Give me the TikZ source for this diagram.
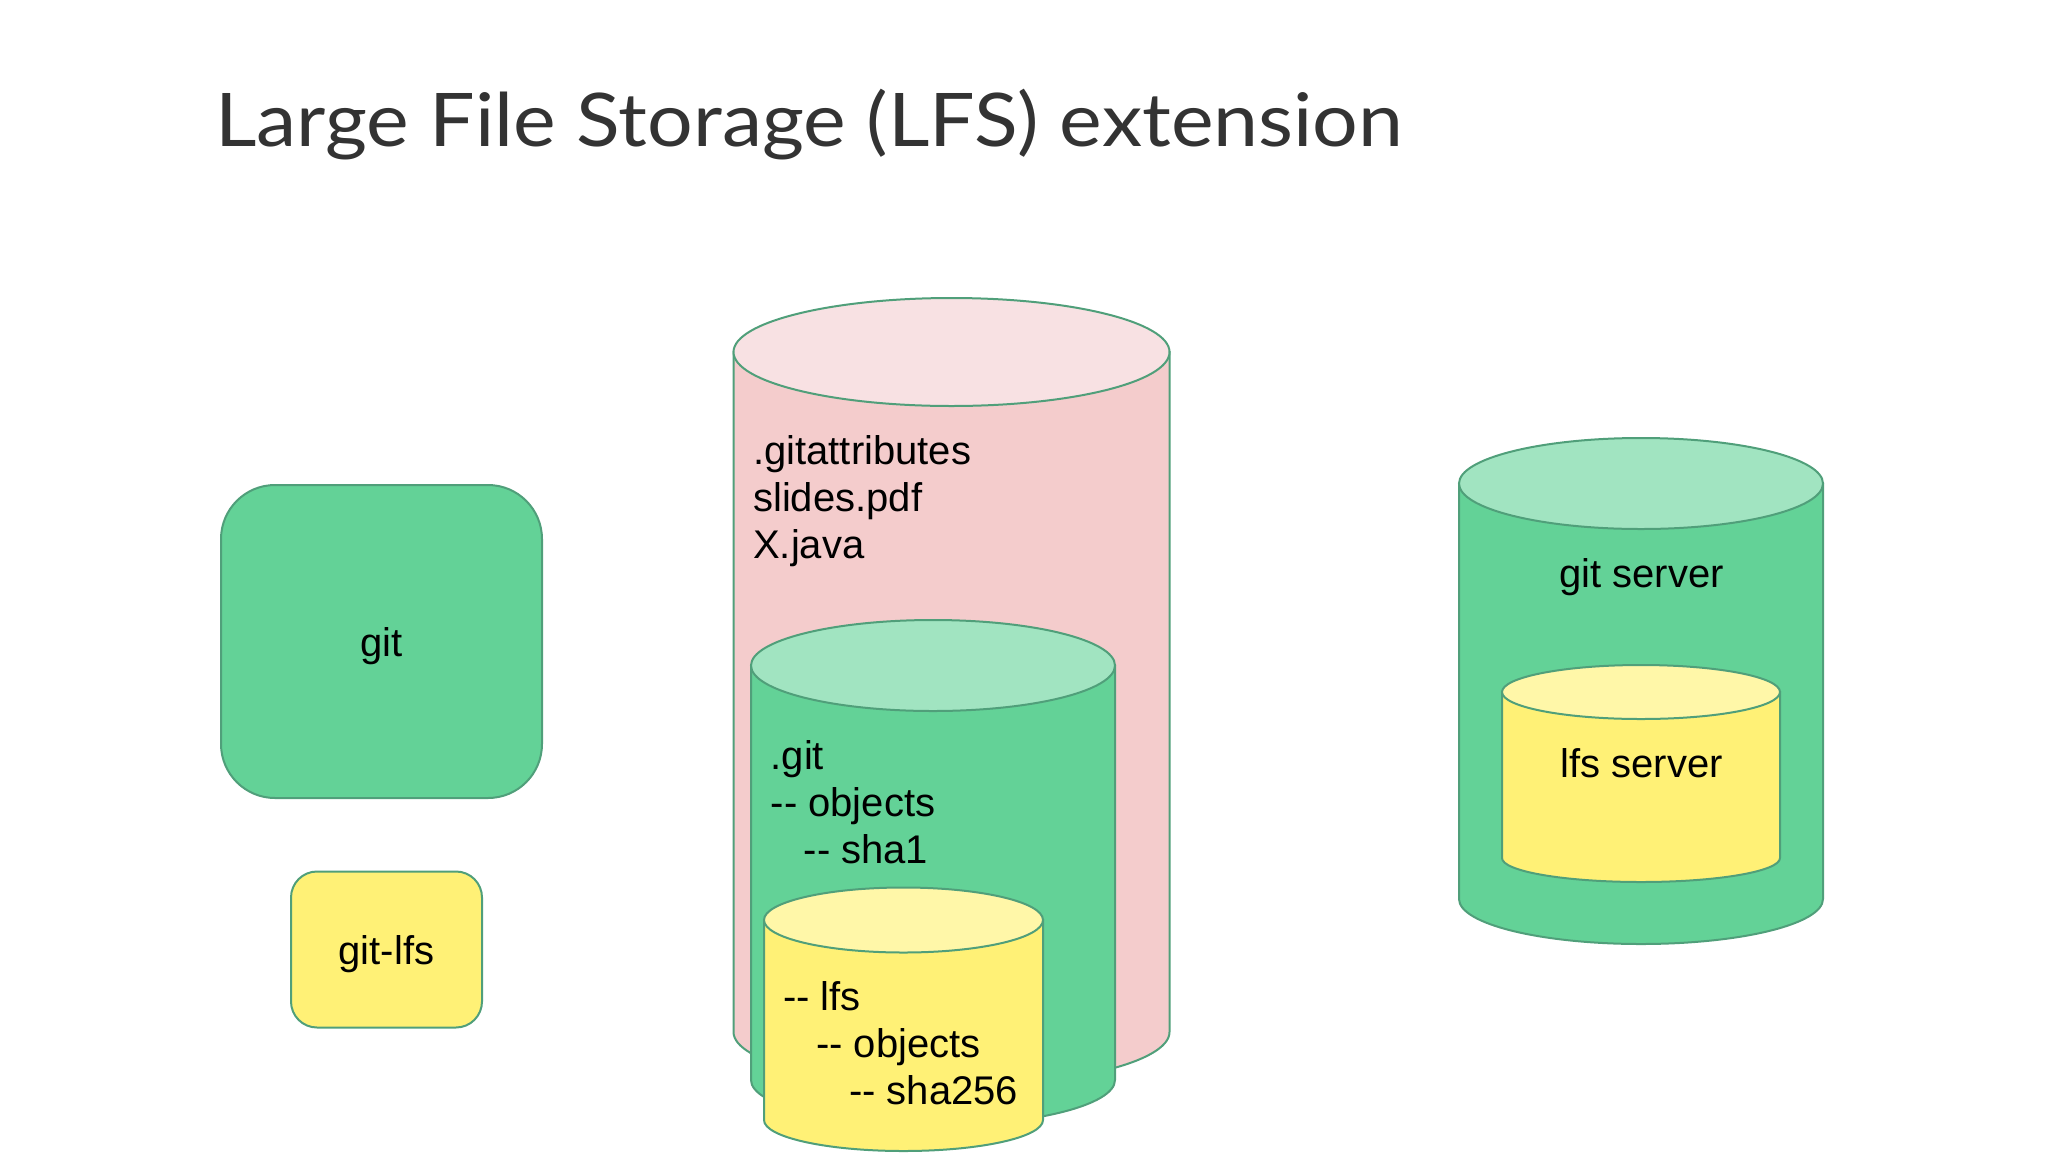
\documentclass[tikz,border=0pt]{standalone}
\usepackage{fontspec}
\setmainfont{Liberation Sans}
\newfontfamily\titlefont[FakeStretch=1.09]{Lato}
\definecolor{edgegreen}{HTML}{509F7A}
\definecolor{pinkbody}{HTML}{F4CCCC}
\definecolor{pinktop}{HTML}{F8E1E3}
\definecolor{greenbody}{HTML}{63D297}
\definecolor{greentop}{HTML}{A1E4C1}
\definecolor{yellowbody}{HTML}{FFF176}
\definecolor{yellowtop}{HTML}{FFF7A8}
\tikzset{
	shape line/.style={draw=edgegreen, line width=2pt},
	body text/.style={inner sep=0pt, align=left, font=\fontsize{40}{47}\selectfont},
}
\newlength{\stepin}
\setlength{\stepin}{33pt}
\begin{document}
\begin{tikzpicture}[x=1pt, y=-1pt]
	\useasboundingbox (0,0) rectangle (2048,1152);

	\node (title) [anchor=base west, inner sep=0pt, text=black!80, font=\titlefont\fontsize{74}{80}\selectfont] at (215,146) {Large File Storage (LFS) extension};

	\node (gitbox) [shape line, fill=greenbody, rounded corners=54pt, minimum width=321pt, minimum height=313pt, text depth=0pt, body text] at (381.5,641.5) {git};
	\node (lfsbox) [shape line, fill=yellowbody, rounded corners=26pt, minimum width=191pt, minimum height=156pt, text depth=0pt, body text] at (386.5,949.5) {git-lfs};

	% big repo
	\draw[shape line, fill=pinkbody] (733.5,352) -- (733.5,1032) arc[start angle=180, end angle=360, x radius=218pt, y radius=54pt] -- (1169.5,352) -- cycle;
	\draw[shape line, fill=pinktop] (951.5,352) ellipse [x radius=218pt, y radius=54pt];
	\node (worktree) [body text, anchor=north west] at (753,435) {.gitattributes\\slides.pdf\\X.java};

	% .git inside it
	\draw[shape line, fill=greenbody] (751,665.5) -- (751,1080) arc[start angle=180, end angle=360, x radius=182pt, y radius=45.5pt] -- (1115,665.5) -- cycle;
	\draw[shape line, fill=greentop] (933,665.5) ellipse [x radius=182pt, y radius=45.5pt];
	\node (dotgit) [body text, anchor=north west] at (770.5,740) {.git\\-{}- objects\\\hspace*{\stepin}-{}- sha1};

	% lfs store
	\draw[shape line, fill=yellowbody] (764,920) -- (764,1120) arc[start angle=180, end angle=360, x radius=139.5pt, y radius=31pt] -- (1043,920) -- cycle;
	\draw[shape line, fill=yellowtop] (903.5,920) ellipse [x radius=139.5pt, y radius=32.5pt];
	\node (lfsstore) [body text, anchor=north west] at (783,981) {-{}- lfs\\\hspace*{\stepin}-{}- objects\\\hspace*{2\stepin}-{}- sha256};

	% servers
	\draw[shape line, fill=greenbody] (1459,483.5) -- (1459,899) arc[start angle=180, end angle=360, x radius=182pt, y radius=45pt] -- (1823,483.5) -- cycle;
	\draw[shape line, fill=greentop] (1641,483.5) ellipse [x radius=182pt, y radius=45.5pt];
	\node (gitserver) [body text] at (1641.5,577) {git server};

	\draw[shape line, fill=yellowbody] (1502,692) -- (1502,858) arc[start angle=180, end angle=360, x radius=139pt, y radius=24pt] -- (1780,692) -- cycle;
	\draw[shape line, fill=yellowtop] (1641,692) ellipse [x radius=139pt, y radius=27pt];
	\node (lfsserver) [body text] at (1641.5,763) {lfs server};
\end{tikzpicture}
\end{document}
